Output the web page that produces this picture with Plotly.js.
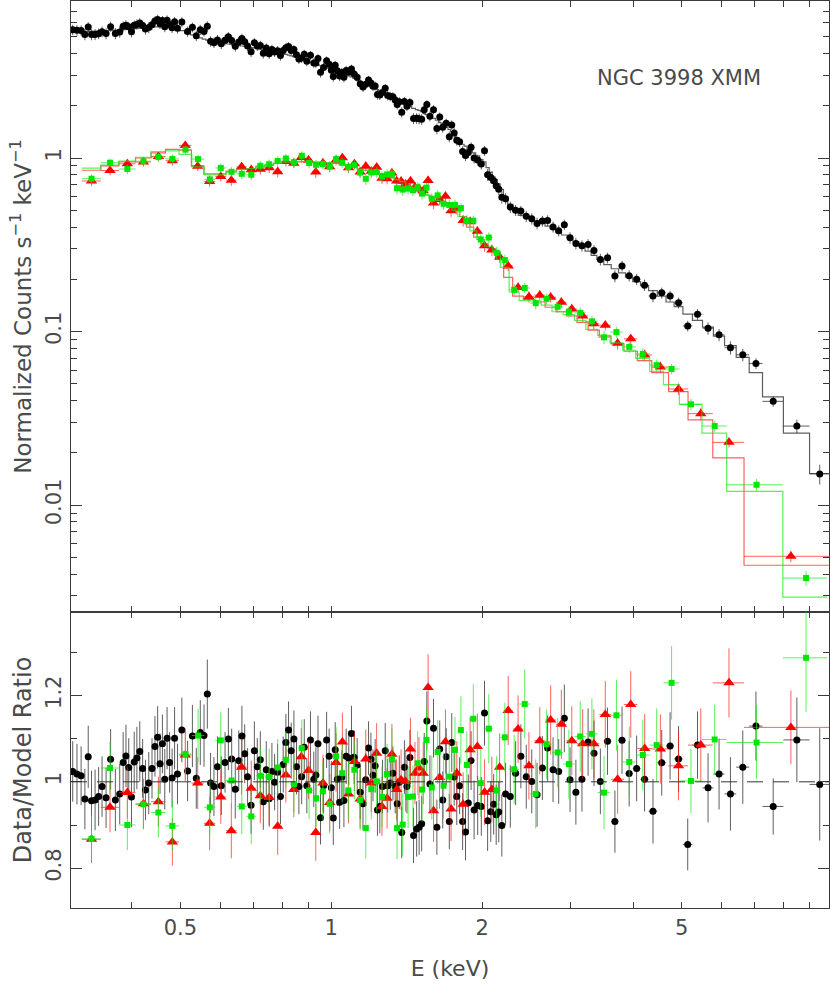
<!DOCTYPE html>
<html>
<head>
<meta charset="utf-8">
<script src="https://cdn.plot.ly/plotly-3.0.1.min.js"></script>
<style>
  html, body { margin: 0; padding: 0; background: #fff; }
  #plot { width: 830px; height: 996px; }
</style>
</head>
<body>
<div id="plot"></div>
<script>
// pn (black): bin edges in keV, model counts, data/model ratio, ratio error
const blackEdges = [
  0.302,0.308,0.314,0.320,0.325,0.330,0.335,0.341,0.346,0.352,
  0.359,0.367,0.375,0.382,0.387,0.392,0.397,0.402,0.407,0.412,
  0.418,0.423,0.429,0.436,0.442,0.448,0.453,0.458,0.463,0.468,
  0.473,0.479,0.484,0.490,0.497,0.510,0.524,0.533,0.543,0.553,
  0.562,0.570,0.579,0.588,0.598,0.609,0.619,0.628,0.638,0.649,
  0.659,0.668,0.676,0.686,0.698,0.707,0.717,0.727,0.737,0.747,
  0.757,0.766,0.776,0.787,0.797,0.807,0.817,0.827,0.837,0.848,
  0.857,0.867,0.879,0.888,0.900,0.918,0.928,0.936,0.946,0.958,
  0.973,0.985,0.996,1.005,1.014,1.023,1.034,1.045,1.055,1.065,
  1.077,1.091,1.104,1.118,1.135,1.150,1.164,1.180,1.194,1.206,
  1.217,1.230,1.243,1.257,1.274,1.289,1.303,1.320,1.335,1.348,
  1.360,1.374,1.391,1.408,1.424,1.447,1.472,1.489,1.506,1.524,
  1.542,1.561,1.586,1.613,1.636,1.656,1.682,1.710,1.730,1.749,
  1.769,1.791,1.816,1.841,1.865,1.889,1.913,1.942,1.977,2.008,
  2.036,2.066,2.096,2.122,2.145,2.173,2.206,2.249,2.304,2.361,
  2.418,2.481,2.543,2.605,2.670,2.734,2.806,2.880,2.955,3.035,
  3.118,3.209,3.299,3.388,3.497,3.619,3.742,3.864,3.995,4.139,
  4.296,4.472,4.655,4.830,5.030,5.255,5.504,5.787,6.090,6.425,
  6.820,7.25,7.98,9.00,9.86
];
const blackModel = [
  5.35,5.35,5.36,5.36,5.37,5.38,5.38,5.39,5.40,5.41,
  5.43,5.45,5.47,5.49,5.50,5.52,5.54,5.56,5.58,5.60,
  5.62,5.64,5.66,5.68,5.69,5.70,5.70,5.69,5.67,5.65,
  5.62,5.58,5.53,5.49,5.42,5.22,5.12,5.03,4.92,4.84,
  4.78,4.72,4.67,4.63,4.60,4.57,4.54,4.51,4.48,4.45,
  4.42,4.39,4.37,4.33,4.30,4.27,4.24,4.21,4.18,4.15,
  4.12,4.09,4.06,4.03,4.00,3.96,3.92,3.88,3.84,3.80,
  3.76,3.72,3.67,3.64,3.56,3.51,3.47,3.44,3.40,3.35,
  3.31,3.28,3.25,3.22,3.19,3.16,3.11,3.08,3.05,3.02,
  2.97,2.93,2.88,2.81,2.74,2.70,2.65,2.61,2.57,2.55,
  2.51,2.48,2.45,2.41,2.35,2.31,2.27,2.21,2.18,2.14,
  2.11,2.08,2.05,2.01,1.98,1.93,1.90,1.88,1.85,1.81,
  1.78,1.75,1.69,1.65,1.60,1.57,1.50,1.46,1.42,1.38,
  1.31,1.25,1.20,1.17,1.13,1.10,1.07,1.03,0.98,0.95,
  0.88,0.83,0.78,0.75,0.71,0.66,0.60,0.54,0.49,0.467,
  0.456,0.446,0.433,0.420,0.405,0.390,0.372,0.360,0.345,0.330,
  0.310,0.291,0.275,0.260,0.243,0.230,0.218,0.206,0.194,0.184,
  0.172,0.160,0.148,0.139,0.126,0.116,0.106,0.094,0.083,0.071,
  0.058,0.042,0.026,0.0152
];
const blackRatio = [
  1.024,1.018,1.014,0.960,1.058,0.956,0.958,0.966,0.989,0.963,
  1.052,0.958,0.972,1.045,1.060,1.033,0.965,1.046,1.055,1.070,
  1.031,0.981,0.997,1.031,1.082,1.103,1.042,1.088,1.006,1.101,
  1.045,1.009,1.101,1.018,1.120,1.025,1.106,1.008,1.114,1.107,
  1.203,0.997,0.989,1.035,0.991,1.045,1.099,1.053,0.983,1.049,
  1.106,1.065,1.012,0.946,1.072,1.035,1.051,0.954,1.028,0.961,
  1.024,0.999,1.022,0.966,1.040,1.091,1.120,1.072,1.099,1.035,
  0.989,1.012,1.080,0.991,1.097,1.006,1.016,1.088,0.917,0.991,
  1.097,1.059,0.986,0.916,1.074,1.006,0.953,1.011,0.957,1.059,
  1.055,1.112,1.057,1.039,0.976,0.949,1.005,1.078,1.052,1.015,
  1.037,0.935,0.943,0.989,1.072,0.991,0.997,1.020,0.989,0.949,
  0.999,0.883,1.034,0.989,1.056,0.876,0.891,0.895,0.903,1.047,
  1.141,0.995,1.124,0.895,1.076,0.958,1.058,0.908,1.091,1.011,
  0.966,0.991,0.908,0.884,0.951,1.049,0.935,0.945,0.943,1.159,
  0.910,0.931,0.948,0.924,0.930,0.899,0.972,0.966,1.020,1.059,
  1.012,1.001,0.970,1.032,1.078,1.028,1.024,1.147,1.005,0.976,
  1.006,1.092,1.066,1.001,1.094,0.908,1.096,1.019,1.031,1.006,
  0.932,1.044,1.083,1.053,0.855,1.085,0.986,1.018,0.972,1.034,
  1.129,0.943,1.097,0.994
];
const blackErr = [
  0.070,0.070,0.068,0.070,0.072,0.070,0.070,0.068,0.070,0.070,
  0.070,0.072,0.070,0.070,0.072,0.068,0.070,0.070,0.072,0.070,
  0.068,0.070,0.072,0.070,0.070,0.072,0.070,0.068,0.070,0.072,
  0.070,0.068,0.072,0.070,0.075,0.070,0.072,0.070,0.075,0.072,
  0.080,0.070,0.068,0.070,0.068,0.070,0.072,0.070,0.068,0.070,
  0.070,0.068,0.066,0.066,0.068,0.066,0.066,0.065,0.066,0.065,
  0.066,0.065,0.066,0.064,0.065,0.066,0.066,0.065,0.066,0.064,
  0.064,0.064,0.065,0.064,0.066,0.064,0.064,0.065,0.062,0.064,
  0.065,0.064,0.062,0.062,0.064,0.062,0.062,0.062,0.062,0.064,
  0.062,0.064,0.062,0.062,0.062,0.060,0.062,0.062,0.062,0.060,
  0.062,0.060,0.062,0.062,0.064,0.062,0.062,0.062,0.062,0.060,
  0.062,0.060,0.062,0.062,0.064,0.064,0.064,0.064,0.064,0.066,
  0.068,0.066,0.068,0.064,0.066,0.066,0.066,0.064,0.068,0.066,
  0.066,0.066,0.066,0.066,0.066,0.068,0.068,0.068,0.068,0.075,
  0.070,0.070,0.070,0.070,0.070,0.072,0.072,0.072,0.074,0.074,
  0.074,0.074,0.074,0.074,0.076,0.075,0.075,0.078,0.075,0.075,
  0.075,0.078,0.076,0.076,0.078,0.072,0.078,0.076,0.076,0.075,
  0.075,0.076,0.078,0.076,0.060,0.078,0.080,0.082,0.085,0.085,
  0.080,0.065,0.098,0.130
];

// MOS1 (red)
const redEdges = [
  0.318,0.347,0.377,0.407,0.437,0.467,0.497,0.526,0.557,0.587,
  0.617,0.647,0.678,0.707,0.737,0.767,0.797,0.827,0.857,0.886,
  0.916,0.947,0.978,1.008,1.037,1.068,1.098,1.127,1.157,1.187,
  1.217,1.247,1.278,1.307,1.336,1.365,1.392,1.423,1.455,1.483,
  1.510,1.542,1.579,1.621,1.668,1.712,1.756,1.805,1.861,1.924,
  1.989,2.056,2.127,2.208,2.301,2.417,2.542,2.671,2.809,2.946,
  3.093,3.255,3.427,3.616,3.837,4.080,4.360,4.710,5.150,5.770,
  6.660,9.860
];
const redModel = [
  0.85,0.90,0.95,1.00,1.07,1.12,1.11,0.90,0.81,0.81,
  0.84,0.86,0.87,0.89,0.91,0.93,0.94,0.95,0.95,0.95,
  0.94,0.94,0.935,0.93,0.92,0.905,0.885,0.865,0.85,0.84,
  0.83,0.81,0.79,0.77,0.75,0.73,0.705,0.685,0.665,0.645,
  0.635,0.61,0.59,0.57,0.55,0.53,0.50,0.46,0.40,0.35,
  0.32,0.30,0.26,0.205,0.16,0.153,0.148,0.138,0.13,0.123,
  0.113,0.102,0.094,0.085,0.077,0.068,0.058,0.045,0.031,0.0187,
  0.0045
];
const redRatio = [
  0.867,0.941,0.975,0.949,0.954,0.861,1.062,0.997,0.904,0.965,
  0.887,1.034,0.985,0.968,0.964,0.897,1.016,0.982,1.058,1.026,
  0.883,0.997,0.952,1.045,1.092,0.972,1.047,0.960,1.053,0.997,
  1.066,0.943,0.962,1.064,0.982,1.005,1.001,1.076,1.020,1.032,
  1.020,1.218,0.933,1.010,1.093,0.937,1.020,0.948,1.074,1.082,
  0.976,0.982,1.034,1.165,1.122,1.037,1.095,1.143,1.133,1.095,
  1.088,1.088,1.156,1.006,1.179,1.077,1.076,1.037,1.085,1.229,
  1.126
];
const redErr = [
  0.055,0.058,0.060,0.058,0.058,0.055,0.060,0.060,0.062,0.062,
  0.064,0.064,0.064,0.064,0.064,0.066,0.064,0.064,0.066,0.066,
  0.066,0.066,0.066,0.068,0.068,0.068,0.068,0.068,0.068,0.068,
  0.070,0.068,0.070,0.070,0.070,0.070,0.070,0.072,0.072,0.072,
  0.072,0.077,0.072,0.072,0.074,0.074,0.074,0.074,0.076,0.076,
  0.076,0.076,0.078,0.080,0.078,0.078,0.078,0.080,0.080,0.080,
  0.080,0.080,0.077,0.080,0.077,0.080,0.080,0.080,0.085,0.080,
  0.085
];

// MOS2 (green)
const greenEdges = [
  0.318,0.347,0.377,0.407,0.437,0.467,0.497,0.527,0.558,0.587,
  0.617,0.648,0.678,0.707,0.737,0.767,0.797,0.827,0.858,0.889,
  0.918,0.947,0.978,1.008,1.037,1.066,1.097,1.127,1.157,1.187,
  1.217,1.247,1.278,1.307,1.336,1.370,1.407,1.440,1.471,1.503,
  1.532,1.566,1.608,1.653,1.698,1.742,1.789,1.839,1.890,1.951,
  2.024,2.100,2.175,2.264,2.371,2.493,2.623,2.757,2.902,3.056,
  3.221,3.402,3.600,3.813,4.050,4.318,4.600,4.950,5.490,6.150,
  7.960,9.750
];
const greenModel = [
  0.875,0.91,0.96,1.01,1.09,1.10,1.05,0.89,0.80,0.80,
  0.83,0.86,0.87,0.89,0.91,0.93,0.945,0.95,0.955,0.955,
  0.95,0.945,0.94,0.93,0.92,0.905,0.885,0.86,0.85,0.84,
  0.83,0.81,0.79,0.77,0.75,0.73,0.69,0.675,0.65,0.635,
  0.615,0.59,0.57,0.55,0.53,0.50,0.46,0.42,0.38,0.34,
  0.31,0.29,0.234,0.169,0.151,0.15,0.142,0.13,0.125,0.116,
  0.103,0.095,0.086,0.078,0.070,0.059,0.0495,0.038,0.026,0.012,
  0.00295
];
const greenRatio = [
  0.868,1.032,0.900,0.948,0.929,0.898,1.064,1.107,0.941,1.096,
  1.003,0.943,0.920,1.014,1.011,1.033,1.051,0.995,1.078,0.980,
  0.962,0.978,0.949,1.059,1.020,0.980,1.028,0.958,0.893,0.983,
  1.001,0.965,1.018,1.052,0.893,0.901,0.965,0.966,1.043,0.982,
  1.097,0.987,1.069,0.991,1.012,1.074,1.120,1.039,1.146,0.997,
  1.123,0.980,1.103,1.029,1.180,0.972,1.087,1.068,1.041,1.105,
  1.111,0.975,1.154,1.046,1.062,1.085,1.229,1.002,1.098,1.091,
  1.287
];
const greenErr = [
  0.055,0.060,0.058,0.058,0.058,0.058,0.060,0.062,0.062,0.065,
  0.064,0.064,0.064,0.064,0.066,0.066,0.066,0.066,0.066,0.066,
  0.066,0.068,0.068,0.068,0.068,0.068,0.068,0.070,0.070,0.070,
  0.070,0.070,0.070,0.072,0.072,0.072,0.072,0.072,0.074,0.074,
  0.074,0.074,0.074,0.076,0.076,0.076,0.078,0.078,0.080,0.078,
  0.080,0.080,0.080,0.080,0.080,0.080,0.080,0.080,0.080,0.082,
  0.082,0.085,0.082,0.082,0.082,0.085,0.085,0.075,0.080,0.085,
  0.125
];

const xTicks = [0.5, 1, 2, 5];
const xTickText = ['0.5', '1', '2', '5'];
const xMinor = [0.4, 0.6, 0.7, 0.8, 0.9, 3, 4, 6, 7, 8, 9];
const countTicks = [0.01, 0.1, 1];
const countTickText = ['0.01', '0.1', '1'];
const countMinor = [0.003,0.004,0.005,0.006,0.007,0.008,0.009,
  0.02,0.03,0.04,0.05,0.06,0.07,0.08,0.09,
  0.2,0.3,0.4,0.5,0.6,0.7,0.8,0.9, 2,3,4,5,6,7,8];
const ratioTicks = [0.8, 1, 1.2];
const ratioMinor = [0.9, 1.1, 1.3];

const axisColor = '#3a3a3a';
const textColor = '#4a4a4a';
const fontFamily = 'DejaVu Sans, Liberation Sans, sans-serif';

const makeTraces = (edges, model, ratio, err, color, errColor, symbol, size) => {
  const x = [], xe = [], counts = [], countErr = [];
  for (let i = 0; i < model.length; i++) {
    x.push((edges[i] + edges[i + 1]) / 2);
    xe.push((edges[i + 1] - edges[i]) / 2);
    counts.push(model[i] * ratio[i]);
    countErr.push(model[i] * err[i]);
  }
  const errStyle = {type: 'data', color: errColor, thickness: 1, width: 0};
  const marker = {color: color, symbol: symbol, size: size, line: {width: 0}};

  const step = {
    x: edges, y: model.concat([model[model.length - 1]]),
    mode: 'lines', line: {shape: 'hv', color: errColor, width: 1.2},
    xaxis: 'x', yaxis: 'y', hoverinfo: 'skip'
  };
  const top = {
    x: x, y: counts, mode: 'markers', marker: marker,
    error_x: Object.assign({array: xe}, errStyle),
    error_y: Object.assign({array: countErr}, errStyle),
    xaxis: 'x', yaxis: 'y'
  };
  const bottom = {
    x: x, y: ratio, mode: 'markers', marker: marker,
    error_x: Object.assign({array: xe}, errStyle),
    error_y: Object.assign({array: err}, errStyle),
    xaxis: 'x2', yaxis: 'y2'
  };
  return [step, top, bottom];
};

const data = [].concat(
  makeTraces(blackEdges, blackModel, blackRatio, blackErr, '#000', 'rgba(40,40,40,0.75)', 'circle', 7),
  makeTraces(redEdges, redModel, redRatio, redErr, '#ff0000', 'rgba(255,30,30,0.7)', 'triangle-up', 10),
  makeTraces(greenEdges, greenModel, greenRatio, greenErr, '#00e600', 'rgba(20,235,20,0.7)', 'square', 6)
);

const xRange = [Math.log10(0.3026), Math.log10(9.84)];
const split = 296 / 907;

const frame = {
  showline: true, linecolor: axisColor, linewidth: 1.3, mirror: 'allticks',
  ticks: 'inside', tickcolor: axisColor, tickwidth: 1, showgrid: false, zeroline: false,
  tickfont: {family: fontFamily, size: 21, color: textColor}
};

// long major tick at 1 keV on every horizontal edge
const longTick = (xref, yref, anchor, dir) => ({
  type: 'line', xref: xref, yref: yref + ' domain', x0: 0, x1: 0,
  ysizemode: 'pixel', yanchor: anchor, y0: 0, y1: 11 * dir,
  line: {color: axisColor, width: 1}
});

const layout = {
  width: 830, height: 996,
  margin: {l: 71, r: 1, t: 1, b: 88},
  paper_bgcolor: '#fff', plot_bgcolor: '#fff',
  showlegend: false,
  font: {family: fontFamily, color: textColor, size: 21},
  xaxis: Object.assign({}, frame, {
    type: 'log', range: xRange, anchor: 'y', domain: [0, 1],
    tickmode: 'array', tickvals: xTicks, ticklen: 6, showticklabels: false,
    minor: {tickmode: 'array', tickvals: xMinor, ticklen: 6, ticks: 'inside', tickcolor: axisColor}
  }),
  yaxis: Object.assign({}, frame, {
    type: 'log', range: [Math.log10(0.00242), Math.log10(8.03)], domain: [split, 1], anchor: 'x',
    tickmode: 'array', tickvals: countTicks, ticktext: countTickText, ticklen: 11, tickangle: -90,
    minor: {tickmode: 'array', tickvals: countMinor, ticklen: 6, ticks: 'inside', tickcolor: axisColor},
    title: {text: 'Normalized Counts s<sup>−1</sup> keV<sup>−1</sup>', font: {family: fontFamily, size: 23, color: textColor}, standoff: 4}
  }),
  xaxis2: Object.assign({}, frame, {
    type: 'log', range: xRange, anchor: 'y2', domain: [0, 1],
    tickmode: 'array', tickvals: xTicks, ticktext: xTickText, ticklen: 6,
    minor: {tickmode: 'array', tickvals: xMinor, ticklen: 6, ticks: 'inside', tickcolor: axisColor},
    title: {text: 'E (keV)', font: {family: fontFamily, size: 22, color: textColor}, standoff: 22}
  }),
  yaxis2: Object.assign({}, frame, {
    range: [0.708, 1.393], domain: [0, split], anchor: 'x2',
    tickmode: 'array', tickvals: ratioTicks, ticklen: 11, tickangle: -90,
    minor: {tickmode: 'array', tickvals: ratioMinor, ticklen: 6, ticks: 'inside', tickcolor: axisColor},
    title: {text: 'Data/Model Ratio', font: {family: fontFamily, size: 24, color: textColor}, standoff: 4}
  }),
  shapes: [
    {type: 'line', xref: 'x2 domain', x0: 0, x1: 1, yref: 'y2', y0: 1, y1: 1,
     line: {color: '#333', width: 1, dash: '16px,10px'}},
    longTick('x', 'y', 1, -1), longTick('x', 'y', 0, 1),
    longTick('x2', 'y2', 1, -1), longTick('x2', 'y2', 0, 1)
  ],
  annotations: [{
    text: 'NGC 3998 XMM', xref: 'paper', yref: 'paper', x: 0.802, y: 0.915,
    xanchor: 'center', yanchor: 'middle',
    showarrow: false, font: {family: fontFamily, size: 21, color: textColor}
  }]
};

Plotly.newPlot('plot', data, layout, {displayModeBar: false, staticPlot: true});
</script>
</body>
</html>
